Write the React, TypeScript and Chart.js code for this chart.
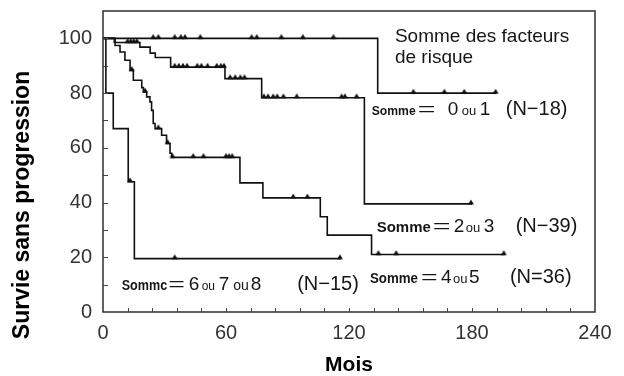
import React, { useEffect, useRef } from 'react';
import { Chart, registerables } from 'chart.js';
Chart.register(...registerables);

// ---------- data (months, % progression-free survival) ----------
const X_LABELS = [0, 60, 120, 180, 240];
const Y_LABELS = [0, 20, 40, 60, 80, 100];

const G01_TIME = [0, 134, 192];
const G01_SURV = [100, 80, 80];
const G01_CENS = [24.5, 27, 35, 38, 40, 47.5, 72.5, 75, 87, 97.5, 112.4, 151.4, 166.5, 176.2, 191.5];

const G23_TIME = [0, 5.5, 18, 23, 25.5, 33, 59.5, 77.4, 127.5, 180];
const G23_SURV = [100, 98.5, 96.8, 94.6, 93, 89.5, 85.3, 78.3, 39.5, 39.5];
const G23_CENS = [12, 13.5, 15, 16.5, 35, 37, 39, 41, 46, 48, 51, 55.5, 57.5, 59, 62, 64.5, 67, 69, 78.5, 80.5, 83, 85, 88, 94.5, 116.4, 118, 123.7, 179.5];

const G45_TIME = [0, 5.9, 8.3, 10.7, 13.2, 14.8, 18.9, 19.7, 21.3, 22.9, 23.7, 24.5, 25.4, 28.6, 31, 32.7, 33.5, 66.8, 78, 106, 109.4, 131, 196];
const G45_SURV = [100, 97.4, 95, 92, 88.3, 84.7, 82, 80.4, 78.6, 76.8, 73.7, 68.9, 67, 64.6, 61.6, 58, 56.5, 47.2, 41.7, 34.8, 28.1, 21, 21];
const G45_CENS = [14, 20.5, 27, 31.5, 33.9, 44, 49, 60, 61.5, 63, 92.8, 99.7, 134.3, 143, 195.5];

const G678_TIME = [0, 1.4, 5, 12.3, 15.3, 116];
const G678_SURV = [100, 80, 67, 47.6, 19.5, 19.5];
const G678_CENS = [13.2, 35, 115.6];

// ---------- helpers ----------
const FONT = '"Liberation Sans", Arial, Helvetica, sans-serif';

function survAt(times: number[], surv: number[], t: number) {
  let v = surv[0];
  for (let i = 0; i < times.length; i++) if (times[i] <= t) v = surv[i];
  return v;
}
function curvePts(times: number[], surv: number[]) {
  return times.map((t, i) => ({ x: t, y: surv[i] }));
}
function censPts(times: number[], surv: number[], cens: number[]) {
  return cens.map((c) => ({ x: c, y: survAt(times, surv, c) }));
}
function makeMark(): HTMLCanvasElement {
  const c = document.createElement('canvas');
  c.width = 8;
  c.height = 10;
  const g = c.getContext('2d')!;
  g.fillStyle = '#111';
  g.beginPath();
  g.moveTo(4, 0.8);
  g.lineTo(7, 5.6);
  g.lineTo(1, 5.6);
  g.closePath();
  g.fill();
  return c;
}

type Seg = { t: string; dx: number; font: string; sx?: number };
const f = (s: number, bold = false) => `${bold ? 'bold ' : ''}${s}px ${FONT}`;

export default function App() {
  const ref = useRef<HTMLCanvasElement>(null);

  useEffect(() => {
    const mark = makeMark();

    const labels: { mx: number; my: number; segs: Seg[] }[] = [
      { mx: 142.4, my: 98.8, segs: [{ t: 'Somme des facteurs', dx: 0, font: f(19) }] },
      { mx: 142.4, my: 90.9, segs: [{ t: 'de risque', dx: 0, font: f(19) }] },
      {
        mx: 131.1, my: 72.0,
        segs: [
          { t: 'Somme', dx: 0, font: f(13.5, true), sx: 0.9 },
          { t: '=', dx: 46, font: f(19), sx: 1.6 },
          { t: '0', dx: 76, font: f(19) },
          { t: 'ou', dx: 90, font: f(13) },
          { t: '1', dx: 108, font: f(19) },
          { t: '(N−18)', dx: 134, font: f(20) },
        ],
      },
      {
        mx: 133.5, my: 29.3,
        segs: [
          { t: 'Somme', dx: 0, font: f(15, true) },
          { t: '=', dx: 56, font: f(19), sx: 1.6 },
          { t: '2', dx: 77, font: f(19) },
          { t: 'ou', dx: 89, font: f(13) },
          { t: '3', dx: 107, font: f(19) },
          { t: '(N−39)', dx: 139, font: f(20) },
        ],
      },
      {
        mx: 130.2, my: 10.5,
        segs: [
          { t: 'Somme', dx: 0, font: f(14, true), sx: 0.95 },
          { t: '=', dx: 51, font: f(19), sx: 1.5 },
          { t: '4', dx: 71, font: f(19) },
          { t: 'ou', dx: 83, font: f(13) },
          { t: '5', dx: 99, font: f(19) },
          { t: '(N=36)', dx: 140, font: f(20) },
        ],
      },
      {
        mx: 9.1, my: 8.0,
        segs: [
          { t: 'Sommc', dx: 0, font: f(14, true), sx: 0.9 },
          { t: '=', dx: 46.5, font: f(19), sx: 1.5 },
          { t: '6', dx: 67, font: f(19) },
          { t: 'ou', dx: 80, font: f(12) },
          { t: '7', dx: 97, font: f(19) },
          { t: 'ou', dx: 111.5, font: f(14) },
          { t: '8', dx: 129, font: f(19) },
          { t: '(N−15)', dx: 175.5, font: f(20) },
        ],
      },
    ];

    const framePlugin = {
      id: 'frame',
      afterDatasetsDraw(chart: any) {
        const { ctx, chartArea: a, scales } = chart;
        const xs = scales.x, ys = scales.y;
        ctx.save();
        ctx.strokeStyle = '#2e2e2e';
        ctx.lineWidth = 1.5;
        ctx.strokeRect(a.left, a.top, a.right - a.left, a.bottom - a.top);
        ctx.lineWidth = 1;
        ctx.strokeStyle = '#444';
        ctx.beginPath();
        for (const t of xs.ticks) {
          if (t.value <= xs.min || t.value >= xs.max) continue;
          const px = Math.round(xs.getPixelForValue(t.value)) + 0.5;
          ctx.moveTo(px, a.bottom);
          ctx.lineTo(px, a.bottom - 4);
        }
        for (const t of ys.ticks) {
          if (t.value <= ys.min || t.value >= ys.max) continue;
          const py = Math.round(ys.getPixelForValue(t.value)) + 0.5;
          ctx.moveTo(a.left, py);
          ctx.lineTo(a.left + 5, py);
        }
        ctx.stroke();
        ctx.restore();
      },
      afterDraw(chart: any) {
        const { ctx, scales } = chart;
        const xs = scales.x, ys = scales.y;
        ctx.save();
        ctx.fillStyle = '#161616';
        ctx.textAlign = 'left';
        ctx.textBaseline = 'alphabetic';
        for (const lab of labels) {
          const ax = xs.getPixelForValue(lab.mx);
          const ay = ys.getPixelForValue(lab.my);
          for (const s of lab.segs) {
            ctx.font = s.font;
            ctx.save();
            ctx.translate(ax + s.dx, ay);
            if (s.sx) ctx.scale(s.sx, 1);
            ctx.fillText(s.t, 0, 0);
            ctx.restore();
          }
        }
        ctx.translate(22.5, 205);
        ctx.rotate(-Math.PI / 2);
        ctx.font = f(23, true);
        ctx.fillStyle = '#000';
        ctx.textAlign = 'center';
        ctx.textBaseline = 'middle';
        ctx.fillText('Survie sans progression', 0, 0);
        ctx.restore();
      },
    };

    const lineDs = (times: number[], surv: number[]) => ({
      type: 'line',
      data: curvePts(times, surv),
      borderColor: '#111',
      borderWidth: 1.6,
      pointRadius: 0,
      stepped: 'before',
      fill: false,
    });
    const markDs = (times: number[], surv: number[], cens: number[]) => ({
      type: 'line',
      data: censPts(times, surv, cens),
      showLine: false,
      pointStyle: mark,
      pointRadius: 4,
      borderColor: '#111',
      backgroundColor: '#111',
    });

    const chart = new Chart(ref.current!, {
      type: 'line',
      data: {
        datasets: [
          lineDs(G01_TIME, G01_SURV),
          lineDs(G23_TIME, G23_SURV),
          lineDs(G45_TIME, G45_SURV),
          lineDs(G678_TIME, G678_SURV),
          markDs(G01_TIME, G01_SURV, G01_CENS),
          markDs(G23_TIME, G23_SURV, G23_CENS),
          markDs(G45_TIME, G45_SURV, G45_CENS),
          markDs(G678_TIME, G678_SURV, G678_CENS),
        ] as any,
      },
      options: {
        responsive: false,
        animation: false,
        devicePixelRatio: 1,
        events: [],
        layout: { padding: { top: 11, right: 29, left: 0, bottom: 0 } },
        plugins: { legend: { display: false }, tooltip: { enabled: false } },
        scales: {
          x: {
            type: 'linear',
            min: 0,
            max: 240,
            grid: { display: false, drawTicks: false, tickLength: 0 },
            border: { display: false },
            ticks: {
              stepSize: 12,
              autoSkip: false,
              maxRotation: 0,
              padding: 9,
              color: '#333',
              font: { family: FONT, size: 20 },
              callback: (v: any) => (X_LABELS.includes(Number(v)) ? String(v) : ''),
            },
            title: {
              display: true,
              text: 'Mois',
              color: '#000',
              font: { family: FONT, size: 21, weight: 'bold', lineHeight: 1 },
              padding: { top: 0, bottom: 0 },
            },
            afterFit: (s: any) => {
              s.height = 64;
            },
          },
          y: {
            type: 'linear',
            min: 0,
            max: 110,
            grid: { display: false, drawTicks: false, tickLength: 0 },
            border: { display: false },
            ticks: {
              stepSize: 10,
              autoSkip: false,
              padding: 11,
              color: '#333',
              font: { family: FONT, size: 20 },
              callback: (v: any) => (Y_LABELS.includes(Number(v)) ? String(v) : ''),
            },
            afterFit: (s: any) => {
              s.width = 103;
              s.paddingTop = 0;
              s.paddingBottom = 0;
            },
          },
        },
      } as any,
      plugins: [framePlugin as any],
    });

    return () => chart.destroy();
  }, []);

  return (
    <div style={{ position: 'fixed', left: 0, top: 0, width: 624, height: 376, background: '#fff' }}>
      <canvas ref={ref} width={624} height={376} style={{ display: 'block', width: 624, height: 376 }} />
    </div>
  );
}
